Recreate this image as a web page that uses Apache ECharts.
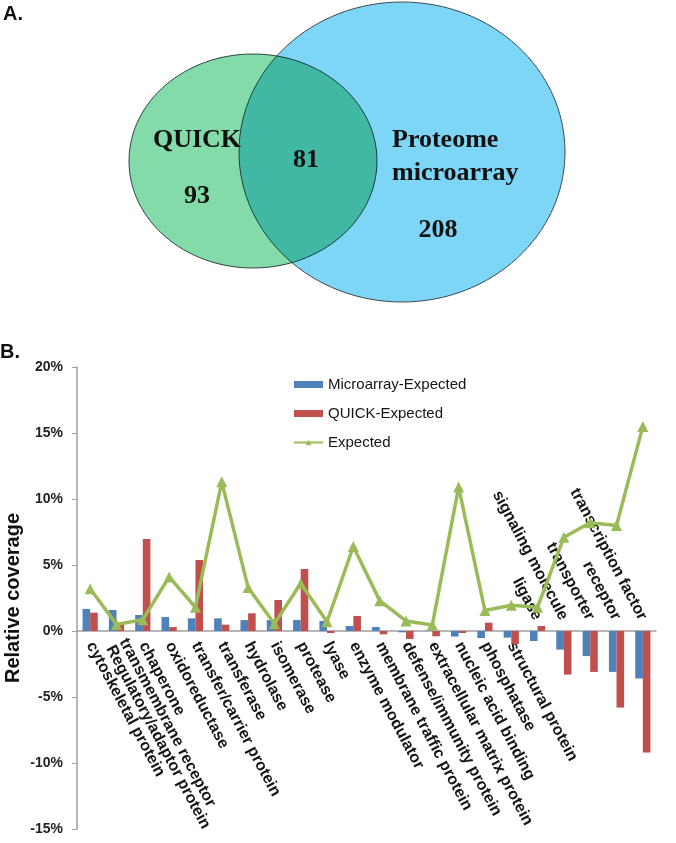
<!DOCTYPE html>
<html>
<head>
<meta charset="utf-8">
<script src="https://cdn.jsdelivr.net/npm/echarts@6/dist/echarts.min.js"></script>
<style>
html, body { margin: 0; padding: 0; background: #fff; }
#chart-show { width: 676px; height: 843px; }
</style>
</head>
<body>
<div id="chart-show"></div>
<script>
// categories (the second one carries two stacked label lines, as in the picture)
var categories = [
    'cytoskeletal protein',
    'transmembrane receptor\nRegulatory/adaptor protein',
    'chaperone',
    'oxidoreductase',
    'transfer/carrier protein',
    'transferase',
    'hydrolase',
    'isomerase',
    'protease',
    'lyase',
    'enzyme modulator',
    'membrane traffic protein',
    'defense/immunity protein',
    'extracellular matrix protein',
    'nucleic acid binding',
    'phosphatase',
    'structural protein',
    'ligase',
    'signaling molecule',
    'transporter',
    'receptor',
    'transcription factor'
];
// values in %
var microarrayExpected = [1.67, 1.59, 1.21, 1.06, 0.96, 0.96, 0.83, 0.83, 0.83, 0.76, 0.38, 0.3,
    -0.1, 0.03, -0.42, -0.53, -0.5, -0.76, -1.41, -1.9, -3.1, -3.6];
var quickExpected = [1.39, 0.6, 6.97, 0.3, 5.38, 0.48, 1.34, 2.35, 4.7, -0.15, 1.14, -0.25,
    -0.6, -0.4, -0.15, 0.63, -1.0, 0.38, -3.3, -3.1, -5.8, -9.2];
var expected = [3.2, 0.5, 0.85, 4.1, 1.8, 11.3, 3.3, 0.55, 3.6, 0.7, 6.4, 2.3,
    0.76, 0.45, 10.9, 1.55, 1.95, 1.8, 7.1, 8.2, 8.0, 15.5];
var yMin = -15, yMax = 20, yStep = 5;
// labels from this index on sit above the axis line
var insideFrom = 17;

// venn part
var vennSets = ['QUICK', 'Proteome\nmicroarray'];
var vennCounts = [93, 81, 208];

var ARIAL = '"Liberation Sans", Arial, sans-serif';
var TIMES = '"Liberation Serif", "Times New Roman", serif';

var gridTop = 367, gridBottom = 14;

function all() {
    var myChart = echarts.init(document.getElementById('chart-show'));

    // category axis sits on the 0% line, so lift it from the grid bottom
    var gridH = 843 - gridTop - gridBottom;
    var zeroOffset = -gridH * (0 - yMin) / (yMax - yMin);

    var labelBase = {
        interval: 0,
        rotate: -62,
        fontFamily: ARIAL,
        fontWeight: 'bold',
        fontSize: 16,
        lineHeight: 15,
        color: '#151515'
    };

    option = {
        animation: false,
        backgroundColor: '#fff',
        graphic: [
            { type: 'text', left: 3, top: 4, style: { text: 'A.', font: 'bold 20px ' + ARIAL, fill: '#111' } },
            { type: 'text', left: 0, top: 342, style: { text: 'B.', font: 'bold 20px ' + ARIAL, fill: '#111' } },
            {
                type: 'ellipse',
                shape: { cx: 402, cy: 152, rx: 163, ry: 150 },
                style: { fill: '#7ed6f7', stroke: '#3c4a50', lineWidth: 1 }
            },
            {
                type: 'ellipse',
                shape: { cx: 253, cy: 161, rx: 124, ry: 107 },
                style: { fill: '#82dba8', stroke: '#3c4a50', lineWidth: 1, blend: 'multiply' }
            },
            {
                type: 'text', x: 197, y: 140,
                style: { text: vennSets[0], font: 'bold 26px ' + TIMES, fill: '#111',
                    align: 'center', verticalAlign: 'middle', textAlign: 'center', textVerticalAlign: 'middle' }
            },
            {
                type: 'text', x: 197, y: 196,
                style: { text: String(vennCounts[0]), font: 'bold 26px ' + TIMES, fill: '#111',
                    align: 'center', verticalAlign: 'middle', textAlign: 'center', textVerticalAlign: 'middle' }
            },
            {
                type: 'text', x: 306, y: 160,
                style: { text: String(vennCounts[1]), font: 'bold 26px ' + TIMES, fill: '#111',
                    align: 'center', verticalAlign: 'middle', textAlign: 'center', textVerticalAlign: 'middle' }
            },
            {
                type: 'text', x: 392, y: 157,
                style: { text: vennSets[1], font: 'bold 26px ' + TIMES, fill: '#111', lineHeight: 33,
                    align: 'left', verticalAlign: 'middle', textAlign: 'left', textVerticalAlign: 'middle' }
            },
            {
                type: 'text', x: 438, y: 230,
                style: { text: String(vennCounts[2]), font: 'bold 26px ' + TIMES, fill: '#111',
                    align: 'center', verticalAlign: 'middle', textAlign: 'center', textVerticalAlign: 'middle' }
            }
        ],
        legend: {
            orient: 'vertical',
            left: 288,
            top: 372,
            itemWidth: 29,
            itemHeight: 7,
            itemGap: 14,
            textStyle: { fontFamily: ARIAL, fontSize: 15, color: '#151515' },
            data: [
                { name: 'Microarray-Expected', icon: 'rect' },
                { name: 'QUICK-Expected', icon: 'rect' },
                { name: 'Expected' }
            ]
        },
        grid: { left: 77, right: 20, top: gridTop, bottom: gridBottom, outerBoundsMode: 'none', containLabel: false },
        xAxis: [{
            type: 'category',
            position: 'bottom',
            offset: zeroOffset,
            data: categories,
            axisLine: { onZero: false, lineStyle: { color: '#a0a0a0', width: 1.5 } },
            axisTick: { show: false },
            axisLabel: Object.assign({}, labelBase, {
                margin: 12,
                formatter: function (v, i) { return i < insideFrom ? v : ''; }
            })
        }, {
            type: 'category',
            position: 'bottom',
            offset: zeroOffset,
            data: categories,
            axisLine: { show: false, onZero: false },
            axisTick: { show: false },
            axisLabel: Object.assign({}, labelBase, {
                inside: true,
                align: 'right',
                margin: 12,
                formatter: function (v, i) { return i >= insideFrom ? v : ''; }
            })
        }],
        yAxis: {
            type: 'value',
            min: yMin,
            max: yMax,
            interval: yStep,
            name: 'Relative coverage',
            nameLocation: 'middle',
            nameGap: 54,
            nameMoveOverlap: false,
            nameTextStyle: { fontFamily: ARIAL, fontWeight: 'bold', fontSize: 20, color: '#111' },
            axisLine: { show: true, lineStyle: { color: '#a0a0a0', width: 1.5 } },
            axisTick: { show: true, length: 5, lineStyle: { color: '#a0a0a0' } },
            splitLine: { show: false },
            axisLabel: {
                margin: 14,
                fontFamily: ARIAL,
                fontWeight: 'bold',
                fontSize: 14,
                color: '#222',
                formatter: '{value}%'
            }
        },
        series: [{
            name: 'Microarray-Expected',
            type: 'bar',
            data: microarrayExpected,
            barWidth: 7.6,
            barGap: '0%',
            itemStyle: { color: '#4f81bd' }
        }, {
            name: 'QUICK-Expected',
            type: 'bar',
            data: quickExpected,
            barWidth: 7.6,
            itemStyle: { color: '#c0504d' }
        }, {
            name: 'Expected',
            type: 'line',
            data: expected,
            symbol: 'triangle',
            symbolSize: 11,
            showAllSymbol: true,
            itemStyle: { color: '#9bbb59' },
            lineStyle: { color: '#9bbb59', width: 3.5 }
        }]
    };
    myChart.setOption(option);
}
window.onload = all;
</script>
</body>
</html>
